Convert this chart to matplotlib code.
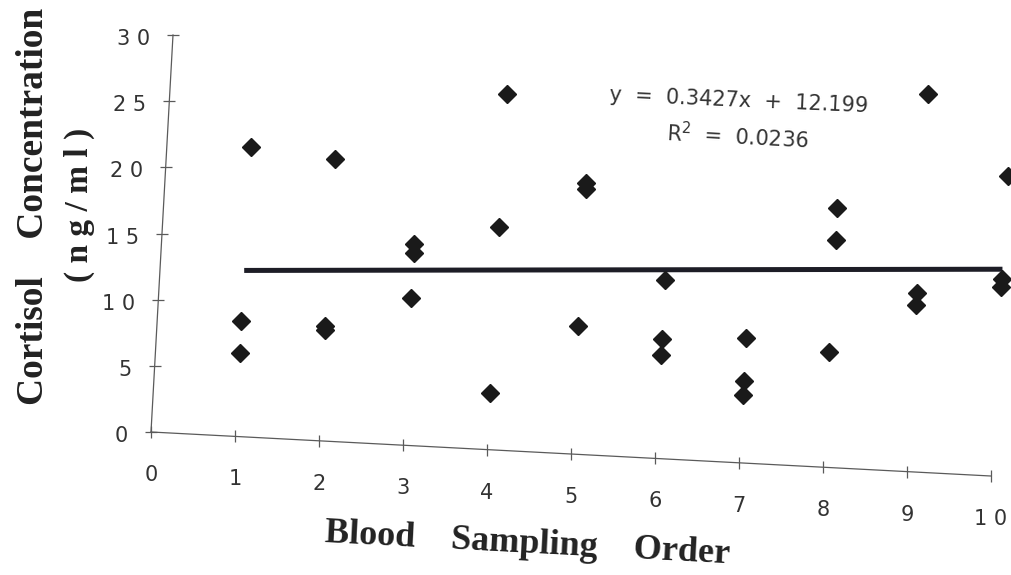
import numpy as np
import matplotlib
matplotlib.use("Agg")
import matplotlib.pyplot as plt
from matplotlib.transforms import Affine2D, ScaledTranslation

# ---------------- data ----------------
sampling_order = [1, 1, 1, 2, 2, 2, 3, 3, 3, 4, 4, 4, 5, 5, 5,
                  6, 6, 6, 7, 7, 7, 8, 8, 8, 9, 9, 9, 10, 10, 10]
cortisol = [6.3, 8.7, 21.9, 8.4, 8.7, 21.3, 11.1, 14.5, 15.2, 4.3, 16.8, 26.9,
            9.7, 20.0, 20.5, 7.8, 9.0, 13.5, 5.1, 6.2, 9.4, 8.7, 17.2, 19.6,
            12.6, 13.5, 28.5, 14.3, 14.9, 22.7]
trend_slope = 0.3427
trend_intercept = 12.199
trend_x = [1, 10]
x_ticks = [0, 1, 2, 3, 4, 5, 6, 7, 8, 9, 10]
x_tick_labels = ["0", "1", "2", "3", "4", "5", "6", "7", "8", "9", "1 0"]
y_ticks = [0, 5, 10, 15, 20, 25, 30]
y_tick_labels = ["0", "5", "1 0", "1 5", "2 0", "2 5", "3 0"]
eq_text = "y  =  0.3427x  +  12.199"
r2_text = "R$^{2}$  =  0.0236"
x_label = "Blood    Sampling    Order"
y_label_1 = "Cortisol    Concentration"
y_label_2 = "( n g / m l )"

# ---------------- figure ----------------
W, H = 1012, 575
fig = plt.figure(figsize=(W / 100, H / 100), dpi=100)
fig.patch.set_facecolor("white")
ax = fig.add_axes([151 / W, 143 / H, 840 / W, 397 / H])
ax.set_xlim(0, 10)
ax.set_ylim(0, 30)
ax.axis("off")

# the scanned original is slightly skewed / rotated
ox, oy = ax.transData.transform((0, 0))
skew = (Affine2D().translate(-ox, -oy)
        + Affine2D(np.array([[1.0, 0.0554, 0.0], [-0.0524, 1.0, 0.0], [0.0, 0.0, 1.0]]))
        + Affine2D().translate(ox, oy))
T = ax.transData + skew

axis_color = "#5a5a5a"
text_color = "#333333"

# axis lines
ax.plot([x_ticks[0], x_ticks[-1]], [0, 0], color=axis_color, lw=0.9,
        transform=T, clip_on=False)
ax.plot([0, 0], [y_ticks[0], y_ticks[-1]], color=axis_color, lw=0.9,
        transform=T, clip_on=False)
# tick marks
ax.plot(x_ticks, [0] * len(x_ticks), ls="none", marker="|", ms=9, mew=0.9,
        color=axis_color, transform=T, clip_on=False)
ax.plot([0] * len(y_ticks), y_ticks, ls="none", marker="_", ms=9, mew=0.9,
        color=axis_color, transform=T, clip_on=False)

# tick labels
for v, lab in zip(x_ticks, x_tick_labels):
    ax.text(v, 0, lab, transform=T + ScaledTranslation(0, -0.49, fig.dpi_scale_trans),
            ha="center", va="baseline", fontsize=15, family="DejaVu Sans",
            color=text_color)
for v, lab in zip(y_ticks, y_tick_labels):
    ax.text(0, v, lab, transform=T + ScaledTranslation(-0.23, -0.10, fig.dpi_scale_trans),
            ha="right", va="baseline", fontsize=15, family="DejaVu Sans",
            color=text_color)

# data points
ax.plot(sampling_order, cortisol, ls="none", marker="D", ms=9.6,
        mfc="#1a1a1a", mec="#1a1a1a", mew=1.0, transform=T, clip_on=False,
        zorder=4)

# linear trend line
trend_y = [trend_slope * x + trend_intercept for x in trend_x]
ax.plot(trend_x, trend_y, color="#1d1d26", lw=3.6, transform=T,
        solid_capstyle="butt", clip_on=False, zorder=3)

# equation
fig.text(739 / W, 1 - 107 / H, eq_text, ha="center", va="baseline",
         rotation=-2.5, rotation_mode="anchor", fontsize=15,
         family="DejaVu Sans", color=text_color)
fig.text(737 / W, 1 - 145 / H, r2_text, ha="center", va="baseline",
         rotation=-3, rotation_mode="anchor", fontsize=15,
         family="DejaVu Sans", color=text_color)

# axis titles
fig.text(527 / W, 1 - 553 / H, x_label, ha="center", va="baseline",
         rotation=-3, rotation_mode="anchor", fontsize=26, fontweight="bold",
         family="Liberation Serif", color="#222222")
fig.text(43 / W, 1 - 206 / H, y_label_1, ha="center", va="baseline",
         rotation=90, rotation_mode="anchor", fontsize=27, fontweight="bold",
         family="Liberation Serif", color="#222222")
fig.text(88 / W, 1 - 205 / H, y_label_2, ha="center", va="baseline",
         rotation=90, rotation_mode="anchor", fontsize=24, fontweight="bold",
         family="Liberation Serif", color="#222222")

fig.savefig("out.png", dpi=100, facecolor="white")
